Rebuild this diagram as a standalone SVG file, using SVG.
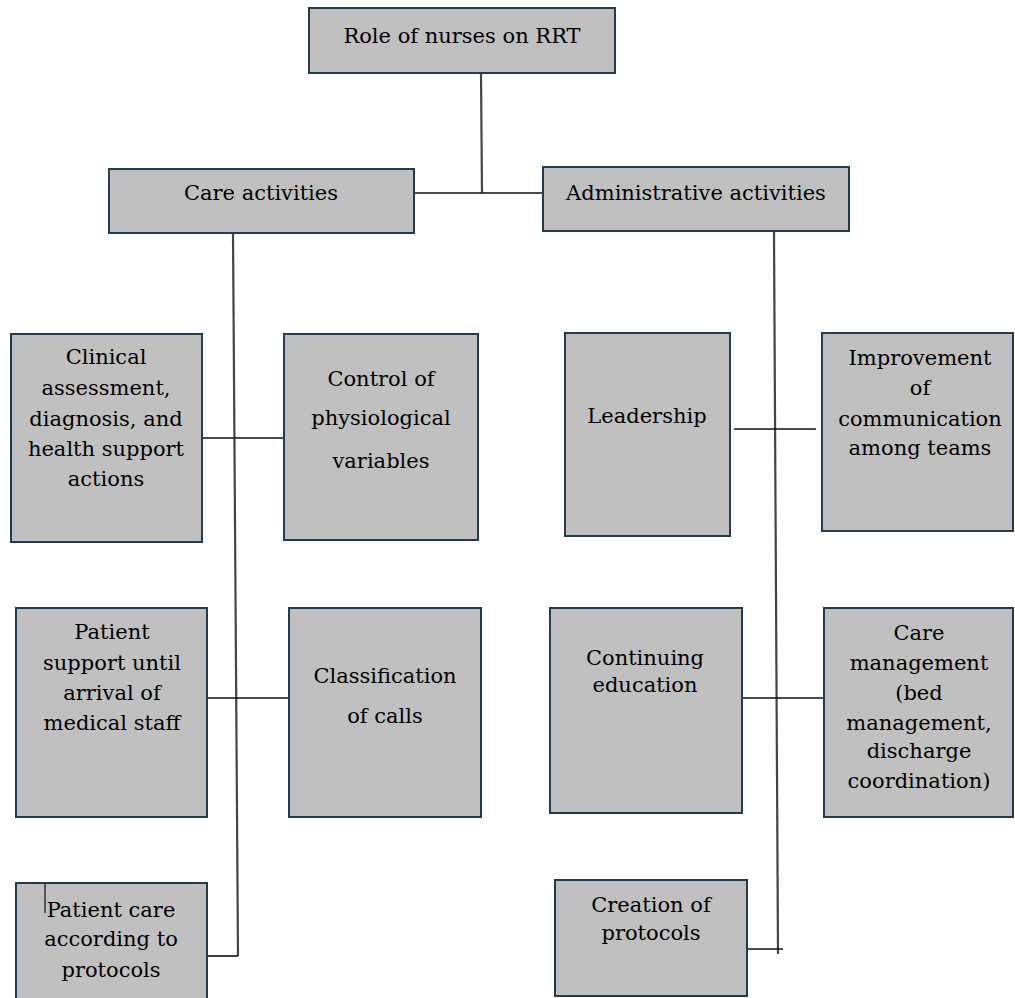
<svg xmlns="http://www.w3.org/2000/svg" width="1015" height="998" viewBox="0 0 1015 998">
<style>
.box{fill:#c0c0c0;stroke:#233d4c;stroke-width:2}
.t{font-family:'DejaVu Serif','Liberation Serif',serif;font-size:21px;fill:#000;text-anchor:middle}
.c{stroke:#111;stroke-width:1.6;fill:none}
.v{stroke:#444;stroke-width:2.2;fill:none}
</style>
<rect width="1015" height="998" fill="#fff"/>
<g id="connectors">
<line class="v" x1="481" y1="73" x2="482" y2="193"/>
<line class="c" x1="414" y1="193" x2="543" y2="193"/>
<line class="v" x1="233" y1="233" x2="238" y2="956"/>
<line class="c" x1="202" y1="438" x2="284" y2="438"/>
<line class="c" x1="207" y1="698" x2="289" y2="698"/>
<line class="c" x1="207" y1="956" x2="238" y2="956"/>
<line class="v" x1="774" y1="232" x2="778" y2="954"/>
<line class="c" x1="734" y1="429" x2="816" y2="429"/>
<line class="c" x1="742" y1="698" x2="826" y2="698"/>
<line class="c" x1="743" y1="949" x2="783" y2="949"/>
</g>
<g id="n-root"><rect class="box" x="309" y="8" width="306" height="65"/><text class="t" x="462" y="43">Role of nurses on RRT</text></g>
<g id="n-care"><rect class="box" x="109" y="169" width="305" height="64"/><text class="t" x="261" y="200">Care activities</text></g>
<g id="n-admin"><rect class="box" x="543" y="167" width="306" height="64"/><text class="t" x="696" y="200">Administrative activities</text></g>
<g id="n-clinical"><rect class="box" x="11" y="334" width="191" height="208"/><text class="t"><tspan x="106" y="364">Clinical</tspan><tspan x="106" y="395">assessment,</tspan><tspan x="106" y="426">diagnosis, and</tspan><tspan x="106" y="456">health support</tspan><tspan x="106" y="486">actions</tspan></text></g>
<g id="n-control"><rect class="box" x="284" y="334" width="194" height="206"/><text class="t"><tspan x="381" y="386">Control of</tspan><tspan x="381" y="425">physiological</tspan><tspan x="381" y="468">variables</tspan></text></g>
<g id="n-leadership"><rect class="box" x="565" y="333" width="165" height="203"/><text class="t" x="647" y="423">Leadership</text></g>
<g id="n-improvement"><rect class="box" x="822" y="333" width="191" height="198"/><text class="t"><tspan x="920" y="365">Improvement</tspan><tspan x="920" y="395">of</tspan><tspan x="920" y="426">communication</tspan><tspan x="920" y="455">among teams</tspan></text></g>
<g id="n-support"><rect class="box" x="16" y="608" width="191" height="209"/><text class="t"><tspan x="112" y="639">Patient</tspan><tspan x="112" y="670">support until</tspan><tspan x="112" y="700">arrival of</tspan><tspan x="112" y="730">medical staff</tspan></text></g>
<g id="n-classification"><rect class="box" x="289" y="608" width="192" height="209"/><text class="t"><tspan x="385" y="683">Classification</tspan><tspan x="385" y="723">of calls</tspan></text></g>
<g id="n-education"><rect class="box" x="550" y="608" width="192" height="205"/><text class="t"><tspan x="645" y="665">Continuing</tspan><tspan x="645" y="692">education</tspan></text></g>
<g id="n-caremgmt"><rect class="box" x="824" y="608" width="189" height="209"/><text class="t"><tspan x="919" y="640">Care</tspan><tspan x="919" y="670">management</tspan><tspan x="919" y="700">(bed</tspan><tspan x="919" y="730">management,</tspan><tspan x="919" y="758">discharge</tspan><tspan x="919" y="788">coordination)</tspan></text></g>
<g id="n-patientcare"><rect class="box" x="16" y="883" width="191" height="125"/><line x1="45" y1="883" x2="45" y2="913" stroke="#333" stroke-width="1.5"/><text class="t"><tspan x="111" y="917">Patient care</tspan><tspan x="111" y="946">according to</tspan><tspan x="111" y="977">protocols</tspan></text></g>
<g id="n-creation"><rect class="box" x="555" y="880" width="192" height="116"/><text class="t"><tspan x="651" y="912">Creation of</tspan><tspan x="651" y="940">protocols</tspan></text></g>
</svg>
